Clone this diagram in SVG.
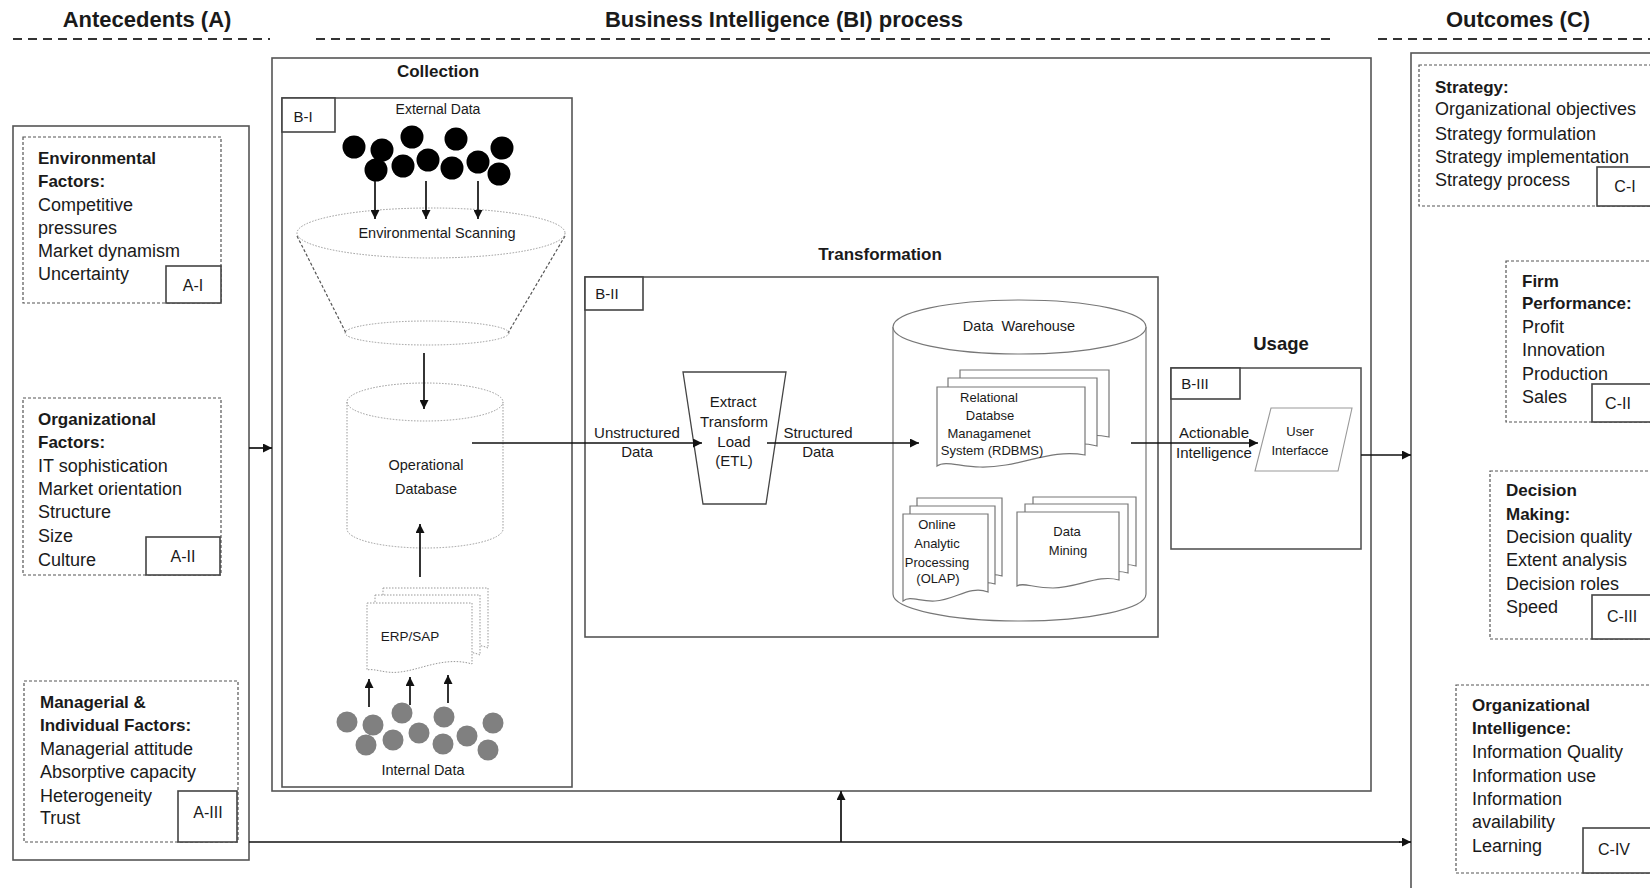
<svg xmlns="http://www.w3.org/2000/svg" width="1650" height="888" viewBox="0 0 1650 888">
<style>
text{font-family:"Liberation Sans",Arial,sans-serif;fill:#1a1a1a}
.h{font-size:22px;font-weight:bold;text-anchor:middle}
.t{font-size:17px;font-weight:bold;text-anchor:middle}
.b{font-size:17px;font-weight:bold}
.r{font-size:18px}
.lbl{font-size:16px;text-anchor:middle}
.s{font-size:14.5px;text-anchor:middle}
.m{font-size:15px;text-anchor:middle}
.x{font-size:13px;text-anchor:middle}
.hd{stroke:#333;stroke-width:2;stroke-dasharray:9 6;fill:none}
.box{fill:none;stroke:#555;stroke-width:1.6}
.lb{fill:#fff;stroke:#444;stroke-width:1.6}
.dash{fill:none;stroke:#555;stroke-width:1.2;stroke-dasharray:3 2}
.dot{fill:none;stroke:#999;stroke-width:1;stroke-dasharray:1.5 1.5}
.dot2{fill:#fff;stroke:#999;stroke-width:1;stroke-dasharray:1.5 1.5}
.sol{fill:#fff;stroke:#777;stroke-width:1.2}
.ar{stroke:#111;stroke-width:1.7;fill:none;marker-end:url(#ah)}
.ln{stroke:#111;stroke-width:1.7;fill:none}
</style>
<defs>
<marker id="ah" viewBox="0 0 10 10" refX="10" refY="5" markerWidth="9" markerHeight="9" markerUnits="userSpaceOnUse" orient="auto"><path d="M0,0 L10,5 L0,10 Z" fill="#111"/></marker>
</defs>
<rect width="1650" height="888" fill="#fff"/>

<g id="headers">
<text class="h" x="147" y="27">Antecedents (A)</text>
<line class="hd" x1="13" y1="39" x2="270" y2="39"/>
<text class="h" x="784" y="27">Business Intelligence (BI) process</text>
<line class="hd" x1="316" y1="39" x2="1330" y2="39"/>
<text class="h" x="1518" y="27">Outcomes (C)</text>
<line class="hd" x1="1378" y1="39" x2="1650" y2="39"/>
</g>

<g id="antecedents">
<rect class="box" x="13" y="126" width="236" height="734"/>
<g id="A-I">
<rect class="dash" x="23" y="137" width="198" height="166"/>
<rect class="lb" x="166" y="266" width="55" height="37"/>
<text class="lbl" x="193" y="291">A-I</text>
<text class="b" x="38" y="164">Environmental</text>
<text class="b" x="38" y="187">Factors:</text>
<text class="r" x="38" y="211">Competitive</text>
<text class="r" x="38" y="234">pressures</text>
<text class="r" x="38" y="257">Market dynamism</text>
<text class="r" x="38" y="280">Uncertainty</text>
</g>
<g id="A-II">
<rect class="dash" x="23" y="398" width="198" height="177"/>
<rect class="lb" x="146" y="537" width="74" height="38"/>
<text class="lbl" x="183" y="562">A-II</text>
<text class="b" x="38" y="425">Organizational</text>
<text class="b" x="38" y="448">Factors:</text>
<text class="r" x="38" y="472">IT sophistication</text>
<text class="r" x="38" y="495">Market orientation</text>
<text class="r" x="38" y="518">Structure</text>
<text class="r" x="38" y="542">Size</text>
<text class="r" x="38" y="566">Culture</text>
</g>
<g id="A-III">
<rect class="dash" x="24" y="681" width="214" height="161"/>
<rect class="lb" x="178" y="791" width="59" height="51"/>
<text class="lbl" x="208" y="818">A-III</text>
<text class="b" x="40" y="708">Managerial &amp;</text>
<text class="b" x="40" y="731">Individual Factors:</text>
<text class="r" x="40" y="755">Managerial attitude</text>
<text class="r" x="40" y="778">Absorptive capacity</text>
<text class="r" x="40" y="802">Heterogeneity</text>
<text class="r" x="40" y="824">Trust</text>
</g>
</g>

<g id="bi-process">
<rect class="box" x="272" y="58" width="1099" height="733"/>
<text class="t" x="438" y="77">Collection</text>
<text class="t" x="880" y="260">Transformation</text>
<text class="t" x="1281" y="350" style="font-size:18.5px">Usage</text>
</g>

<g id="B-I">
<rect class="box" x="282" y="98" width="290" height="689"/>
<rect class="lb" x="282" y="98" width="53" height="34"/>
<text class="x" x="303" y="122" style="font-size:15px">B-I</text>
<text class="s" x="438" y="114" style="font-size:14px">External Data</text>
<g fill="#000">
<circle cx="354" cy="147" r="11.5"/><circle cx="382" cy="150" r="11.5"/><circle cx="376" cy="170" r="11.5"/>
<circle cx="412" cy="137" r="11.5"/><circle cx="403" cy="166" r="11.5"/><circle cx="428" cy="160" r="11.5"/>
<circle cx="456" cy="139" r="11.5"/><circle cx="452" cy="168" r="11.5"/><circle cx="478" cy="162" r="11.5"/>
<circle cx="502" cy="148" r="11.5"/><circle cx="499" cy="174" r="11.5"/>
</g>
<g id="funnel">
<line class="dash" x1="297" y1="236" x2="346" y2="333"/>
<line class="dash" x1="565" y1="236" x2="508" y2="333"/>
<ellipse class="dot" cx="431" cy="233" rx="134" ry="25"/>
<ellipse class="dot" cx="427" cy="333" rx="82" ry="12"/>
<text class="s" x="437" y="238">Environmental Scanning</text>
</g>
<g id="operational-db">
<path class="dot" d="M347,402 V529 A78,19 0 0 0 503,529 V402"/>
<ellipse class="dot" cx="425" cy="402" rx="78" ry="19"/>
<text class="s" x="426" y="470">Operational</text>
<text class="s" x="426" y="494">Database</text>
</g>
<g id="erp-sap">
<path class="dot2" d="M383,588 H488 V648 C470,640 450,650 420,652 C400,654 390,648 383,656 Z"/>
<path class="dot2" d="M375,595 H480 V655 C462,647 442,657 412,659 C392,661 382,655 375,663 Z"/>
<path class="dot2" d="M367,603 H472 V664 C445,656 420,670 400,672 C385,674 375,668 367,670 Z"/>
<text class="x" x="410" y="641" style="font-size:13.5px">ERP/SAP</text>
</g>
<g fill="#808080">
<circle cx="347" cy="722" r="10.5"/><circle cx="373" cy="725" r="10.5"/><circle cx="366" cy="745" r="10.5"/>
<circle cx="402" cy="713" r="10.5"/><circle cx="393" cy="740" r="10.5"/><circle cx="419" cy="733" r="10.5"/>
<circle cx="444" cy="717" r="10.5"/><circle cx="443" cy="744" r="10.5"/><circle cx="467" cy="736" r="10.5"/>
<circle cx="493" cy="723" r="10.5"/><circle cx="488" cy="750" r="10.5"/>
</g>
<text class="s" x="423" y="775">Internal Data</text>
</g>

<g id="B-II">
<rect class="box" x="585" y="277" width="573" height="360"/>
<rect class="lb" x="585" y="277" width="58" height="33"/>
<text class="x" x="607" y="299" style="font-size:15px">B-II</text>
<g id="etl">
<path d="M683,372 H786 L766,504 H703 Z" fill="#fff" stroke="#444" stroke-width="1.3"/>
<text class="m" x="733" y="407">Extract</text>
<text class="m" x="734" y="427">Transform</text>
<text class="m" x="734" y="447">Load</text>
<text class="m" x="734" y="466">(ETL)</text>
</g>
<text class="m" x="637" y="438">Unstructured</text>
<text class="m" x="637" y="457">Data</text>
<text class="m" x="818" y="438">Structured</text>
<text class="m" x="818" y="457">Data</text>
<g id="data-warehouse">
<path class="sol" d="M893,327 V594 A126.5,27 0 0 0 1146,594 V327"/>
<ellipse class="sol" cx="1019.5" cy="327" rx="126.5" ry="27"/>
<text class="s" x="1019" y="331" style="white-space:pre">Data  Warehouse</text>
<g id="rdbms">
<path class="sol" d="M960,370 H1109 V437 C1080,430 1050,446 1010,446 C985,446 970,440 960,444 Z"/>
<path class="sol" d="M948,378 H1097 V446 C1068,438 1038,454 998,454 C973,454 958,448 948,452 Z"/>
<path class="sol" d="M937,387 H1085 V455 C1050,448 1020,468 980,467 C960,467 945,460 937,466 Z"/>
<text class="x" x="989" y="402">Relational</text>
<text class="x" x="990" y="420">Databse</text>
<text class="x" x="989" y="438">Managamenet</text>
<text class="x" x="992" y="455">System (RDBMS)</text>
</g>
<g id="olap">
<path class="sol" d="M917,498 H1002 V576 C985,570 970,584 950,585 C935,586 925,580 917,586 Z"/>
<path class="sol" d="M910,506 H995 V584 C978,578 963,592 943,593 C928,594 918,588 910,594 Z"/>
<path class="sol" d="M903,514 H988 V592 C970,585 955,600 935,601 C920,602 910,595 903,601 Z"/>
<text class="x" x="937" y="529">Online</text>
<text class="x" x="937" y="548">Analytic</text>
<text class="x" x="937" y="567">Processing</text>
<text class="x" x="938" y="583">(OLAP)</text>
</g>
<g id="data-mining">
<path class="sol" d="M1033,497 H1136 V566 C1115,560 1095,574 1070,574 C1050,574 1040,568 1033,572 Z"/>
<path class="sol" d="M1025,504 H1128 V573 C1107,567 1087,581 1062,581 C1042,581 1032,575 1025,579 Z"/>
<path class="sol" d="M1017,512 H1119 V580 C1098,574 1078,588 1053,588 C1033,588 1023,582 1017,586 Z"/>
<text class="x" x="1067" y="536">Data</text>
<text class="x" x="1068" y="555">Mining</text>
</g>
</g>
</g>

<g id="B-III">
<rect class="box" x="1171" y="368" width="190" height="181"/>
<rect class="lb" x="1171" y="368" width="69" height="31"/>
<text class="x" x="1195" y="389" style="font-size:15px">B-III</text>
<path d="M1271,408 H1352 L1338,471 H1255 Z" fill="#fff" stroke="#999" stroke-width="1.1"/>
<text class="x" x="1300" y="436">User</text>
<text class="x" x="1300" y="455">Interfacce</text>
<text class="m" x="1214" y="438">Actionable</text>
<text class="m" x="1214" y="458">Intelligence</text>
</g>

<g id="outcomes">
<rect class="box" x="1411" y="53" width="260" height="860"/>
<g id="C-I">
<rect class="dash" x="1419" y="65" width="260" height="141"/>
<rect class="lb" x="1597" y="167" width="70" height="39"/>
<text class="lbl" x="1625" y="192">C-I</text>
<text class="b" x="1435" y="93">Strategy:</text>
<text class="r" x="1435" y="115">Organizational objectives</text>
<text class="r" x="1435" y="140">Strategy formulation</text>
<text class="r" x="1435" y="163">Strategy implementation</text>
<text class="r" x="1435" y="186">Strategy process</text>
</g>
<g id="C-II">
<rect class="dash" x="1506" y="261" width="170" height="161"/>
<rect class="lb" x="1592" y="384" width="70" height="38"/>
<text class="lbl" x="1618" y="409">C-II</text>
<text class="b" x="1522" y="287">Firm</text>
<text class="b" x="1522" y="309">Performance:</text>
<text class="r" x="1522" y="333">Profit</text>
<text class="r" x="1522" y="356">Innovation</text>
<text class="r" x="1522" y="380">Production</text>
<text class="r" x="1522" y="403">Sales</text>
</g>
<g id="C-III">
<rect class="dash" x="1490" y="471" width="190" height="168"/>
<rect class="lb" x="1592" y="595" width="70" height="44"/>
<text class="lbl" x="1622" y="622">C-III</text>
<text class="b" x="1506" y="496">Decision</text>
<text class="b" x="1506" y="520">Making:</text>
<text class="r" x="1506" y="543">Decision quality</text>
<text class="r" x="1506" y="566">Extent analysis</text>
<text class="r" x="1506" y="590">Decision roles</text>
<text class="r" x="1506" y="613">Speed</text>
</g>
<g id="C-IV">
<rect class="dash" x="1456" y="685" width="220" height="188"/>
<rect class="lb" x="1583" y="828" width="80" height="45"/>
<text class="lbl" x="1614" y="855">C-IV</text>
<text class="b" x="1472" y="711">Organizational</text>
<text class="b" x="1472" y="734">Intelligence:</text>
<text class="r" x="1472" y="758">Information Quality</text>
<text class="r" x="1472" y="782">Information use</text>
<text class="r" x="1472" y="805">Information</text>
<text class="r" x="1472" y="828">availability</text>
<text class="r" x="1472" y="852">Learning</text>
</g>
</g>

<g id="connectors">
<line class="ar" x1="249" y1="448" x2="272" y2="448"/>
<line class="ar" x1="375" y1="181" x2="375" y2="219"/>
<line class="ar" x1="426" y1="181" x2="426" y2="219"/>
<line class="ar" x1="478" y1="181" x2="478" y2="219"/>
<line class="ar" x1="424" y1="353" x2="424" y2="409"/>
<line class="ar" x1="420" y1="577" x2="420" y2="524"/>
<line class="ar" x1="369" y1="707" x2="369" y2="679"/>
<line class="ar" x1="410" y1="705" x2="410" y2="677"/>
<line class="ar" x1="448" y1="703" x2="448" y2="675"/>
<line class="ar" x1="472" y1="443" x2="702" y2="443"/>
<line class="ar" x1="767" y1="443" x2="919" y2="443"/>
<line class="ar" x1="1131" y1="443" x2="1258" y2="443"/>
<line class="ar" x1="1361" y1="455" x2="1411" y2="455"/>
<line class="ln" x1="249" y1="842" x2="1400" y2="842"/>
<line class="ar" x1="1399" y1="842" x2="1411" y2="842"/>
<line class="ar" x1="841" y1="842" x2="841" y2="791"/>
</g>
</svg>
